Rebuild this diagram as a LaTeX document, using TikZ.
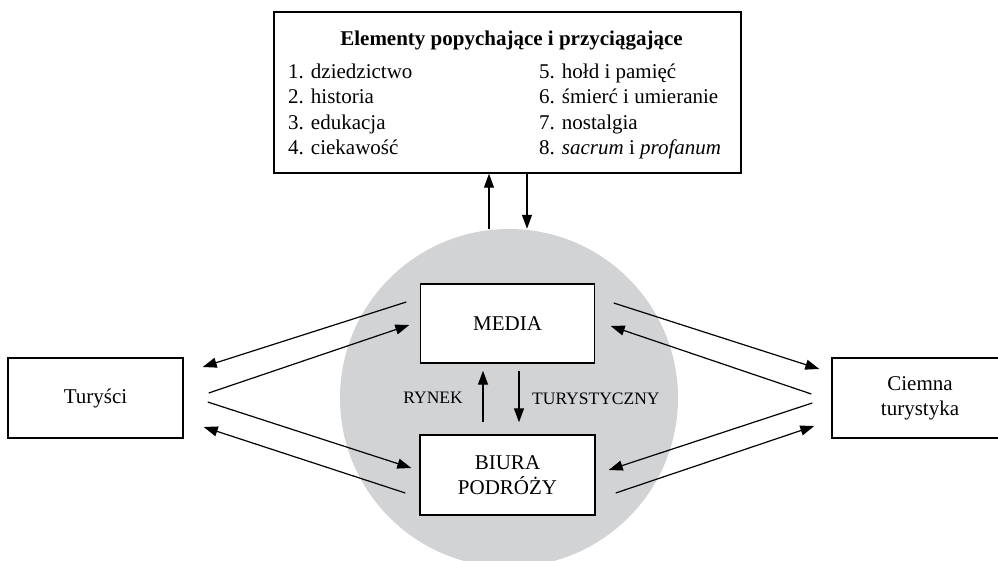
\documentclass[tikz,border=0pt]{standalone}
\usepackage{fontspec}
\setmainfont{Liberation Serif}
\usetikzlibrary{arrows.meta}
\definecolor{circgrey}{RGB}{210,211,213}
\begin{document}
\begin{tikzpicture}[x=1pt,y=-1pt,
  box/.style={draw, line width=1.4pt, fill=white, inner sep=0pt, align=center,
    font=\fontsize{21}{25}\selectfont},
  arr/.style={line width=1.2pt, -{Triangle[length=14pt,width=10pt]}},
  lbl/.style={font=\fontsize{21}{25}\selectfont, inner sep=0pt},
  smalllbl/.style={font=\fontsize{17.5}{21}\selectfont, inner sep=0pt}]
\useasboundingbox (0,0) rectangle (998,561);
\node[circle, fill=circgrey, minimum size=338pt, inner sep=0pt] (market) at (509,398) {};

\node[box, minimum width=467pt, minimum height=161pt] (top) at (507.5,92.5) {};
\node[lbl, font=\fontsize{21}{25}\selectfont\bfseries, anchor=base] (title) at (511.5,46) {Elementy popychające i przyciągające};
\node[lbl, anchor=base west] (i1) at (288,79) {1. dziedzictwo};
\node[lbl, anchor=base west] (i2) at (288,104) {2. historia};
\node[lbl, anchor=base west] (i3) at (288,130) {3. edukacja};
\node[lbl, anchor=base west] (i4) at (288,155) {4. ciekawość};
\node[lbl, anchor=base west] (i5) at (539,79) {5. hołd i pamięć};
\node[lbl, anchor=base west] (i6) at (539,104) {6. śmierć i umieranie};
\node[lbl, anchor=base west] (i7) at (539,130) {7. nostalgia};
\node[lbl, anchor=base west] (i8) at (539,155) {8. \textit{sacrum} i \textit{profanum}};

\node[box, minimum width=174pt, minimum height=79pt] (media) at (507.5,323.5) {MEDIA};
\node[box, minimum width=175pt, minimum height=80pt] (biura) at (507.5,475) {BIURA\\PODRÓŻY};
\node[box, minimum width=175pt, minimum height=80pt] (tur) at (95.5,398) {Turyści};
\node[box, minimum width=176pt, minimum height=80pt] (ciem) at (920,398) {Ciemna\\turystyka};

\node[smalllbl, anchor=base east] (rynek) at (463,403) {RYNEK};
\node[smalllbl, anchor=base west] (turyst) at (532,404) {TURYSTYCZNY};

% top box <-> market
\draw[arr] ([xshift=-20pt]market.north) -- ([xshift=-18.5pt]top.south);
\draw[arr] ([xshift=19.5pt]top.south) -- ([xshift=18pt]market.north);

% media <-> biura
\draw[arr] ([shift={(-24.5,-12)}]biura.north) -- ([shift={(-24.5,7)}]media.south);
\draw[arr] ([shift={(11.5,7)}]media.south) -- ([shift={(11.5,-12)}]biura.north);

% left side
\draw[arr] ([shift={(-13.5,-21.5)}]media.west) -- ([shift={(19,-31)}]tur.east);
\draw[arr] ([shift={(25,-5)}]tur.east) -- ([shift={(-10.5,1.5)}]media.west);
\draw[arr] ([shift={(24,4)}]tur.east) -- ([shift={(-8,-7)}]biura.west);
\draw[arr] ([shift={(-14,18)}]biura.west) -- ([shift={(20,29)}]tur.east);

% right side
\draw[arr] ([shift={(18.5,-20.5)}]media.east) -- ([shift={(-12,-29)}]ciem.west);
\draw[arr] ([shift={(-20,-4)}]ciem.west) -- ([shift={(15.5,2.5)}]media.east);
\draw[arr] ([shift={(-19,5)}]ciem.west) -- ([shift={(13,-5)}]biura.east);
\draw[arr] ([shift={(20,18)}]biura.east) -- ([shift={(-17,28)}]ciem.west);
\end{tikzpicture}
\end{document}
